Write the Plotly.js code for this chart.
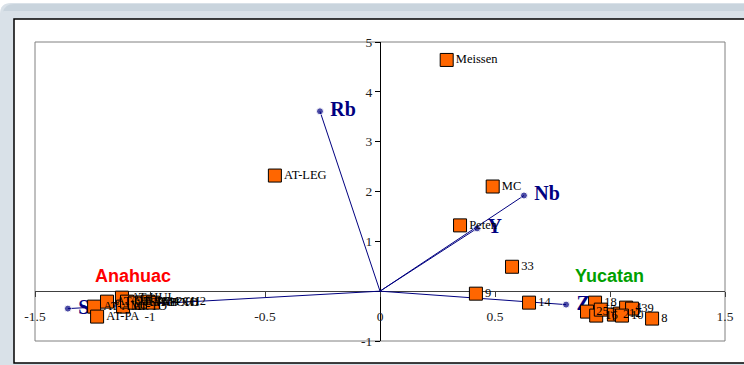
<!DOCTYPE html>
<html><head><meta charset="utf-8">
<script src="https://cdn.plot.ly/plotly-3.0.1.min.js"></script>
<style>html,body{margin:0;padding:0;background:#fff;}#chart{width:744px;height:365px;}</style>
</head><body><div id="chart"></div>
<script>
// ---- data ----
const sampleNames = ['Meissen','AT-LEG','MC','Peten','33','9','14','8',
  '18','25','16','5','2','12','4','39','10',
  'AT-AM','AT-PA','AT-CH','AT-HUI','AT-TO','AT-TE','AT-MI','AT-PCH1','AT-PCH2','AT-XO'];
const sampleX = [0.29,-0.457,0.49,0.348,0.574,0.417,0.648,1.183,
  0.935,0.90,0.94,0.96,1.017,1.043,1.07,1.096,1.052,
  -1.243,-1.230,-1.187,-1.122,-1.117,-1.10,-1.065,-1.035,-1.009,-0.987];
const sampleY = [4.64,2.32,2.10,1.32,0.49,-0.05,-0.23,-0.55,
  -0.23,-0.41,-0.49,-0.37,-0.47,-0.45,-0.33,-0.35,-0.49,
  -0.31,-0.51,-0.21,-0.13,-0.31,-0.21,-0.23,-0.23,-0.21,-0.23];

const vecNames = ['Rb','Nb','Y','Sr','Zr'];
const vecX = [-0.261,0.626,0.422,-1.357,0.809];
const vecY = [3.61,1.92,1.26,-0.35,-0.27];

const groupNames = ['Anahuac','Yucatan'];
const groupX = [-1.072,0.996];
const groupY = [0.31,0.31];

const xTickVals = [-1.5,-1,-0.5,0,0.5,1,1.5];
const xTickText = ['-1.5','-1','-0.5','0','0.5','1','1.5'];
const yTickVals = [-1,0,1,2,3,4,5];
const yTickText = ['-1','','1','2','3','4','5'];

// ---- layout helpers ----
const W=744,H=365, L=35,R=19,T=42,B=24;
const pw=W-L-R, ph=H-T-B;
const px=x=>(x-L)/pw, py=y=>(H-B-y)/ph;

const traces=[];
vecNames.forEach((n,i)=>{
  traces.push({type:'scatter',mode:'lines+markers+text',
    x:[0,vecX[i]],y:[0,vecY[i]],
    line:{color:'#000080',width:1},
    marker:{size:[0,7],color:'#000080'},
    text:['',' <b>'+n+'</b>'],textposition:'middle right',
    textfont:{family:'Liberation Serif',size:20,color:'#000080'},
    hoverinfo:'skip',showlegend:false,cliponaxis:false});
});
traces.push({type:'scatter',mode:'markers+text',x:sampleX,y:sampleY,text:sampleNames,
  textposition:'middle right',
  textfont:{family:'Liberation Serif',size:12.5,color:'#000'},
  marker:{symbol:'square',size:13,color:'#ff6600',line:{color:'#000',width:1}},
  showlegend:false,cliponaxis:false});

const shapes=[
  {type:'path',xref:'paper',yref:'paper',layer:'below',
   path:`M ${px(0)} ${py(14)} Q ${px(0)} ${py(3)} ${px(11)} ${py(3)} L ${px(760)} ${py(3)} L ${px(760)} ${py(380)} L ${px(0)} ${py(380)} Z`,
   fillcolor:'#d9e1e8',line:{width:0}},
  {type:'path',xref:'paper',yref:'paper',layer:'below',
   path:`M ${px(3)} ${py(12)} Q ${px(5)} ${py(4)} ${px(14)} ${py(4)} L ${px(760)} ${py(4)} L ${px(760)} ${py(11)} L ${px(3)} ${py(11)} Z`,
   fillcolor:'#c9d4dd',line:{width:0}},
  {type:'rect',xref:'paper',yref:'paper',layer:'below',
   x0:px(14),x1:px(760),y0:py(19),y1:py(363),fillcolor:'#ffffff',line:{color:'#000',width:1.5}},
  {type:'rect',xref:'paper',yref:'paper',layer:'below',
   x0:0,x1:1,y0:0,y1:1,line:{color:'#808080',width:1}}
];

const annotations=groupNames.map((g,i)=>({x:groupX[i],y:groupY[i],xref:'x',yref:'y',
  text:'<b>'+g+'</b>',showarrow:false,
  font:{family:'Liberation Sans',size:18,color:i===0?'#ff0000':'#00a000'}}));

const layout={width:W,height:H,margin:{l:L,r:R,t:T,b:B,pad:0},
  paper_bgcolor:'#ffffff',plot_bgcolor:'rgba(0,0,0,0)',
  showlegend:false,shapes,annotations,
  xaxis:{range:[-1.5,1.5],anchor:'free',position:1/6,tickvals:xTickVals,ticktext:xTickText,
    showgrid:false,zeroline:false,showline:true,linecolor:'#404040',linewidth:1,
    ticks:'outside',ticklen:5,tickcolor:'#404040',ticklabelstandoff:8,
    tickfont:{family:'Liberation Serif',size:13.5,color:'#222'},layer:'below traces',fixedrange:true},
  yaxis:{range:[-1,5],anchor:'free',position:0.5,tickvals:yTickVals,ticktext:yTickText,
    showgrid:false,zeroline:false,showline:true,linecolor:'#000',linewidth:1,
    ticks:'outside',ticklen:5,tickcolor:'#000',
    tickfont:{family:'Liberation Serif',size:13.5,color:'#222'},layer:'below traces',fixedrange:true}
};
Plotly.newPlot('chart',traces,layout,{staticPlot:true});
</script></body></html>
